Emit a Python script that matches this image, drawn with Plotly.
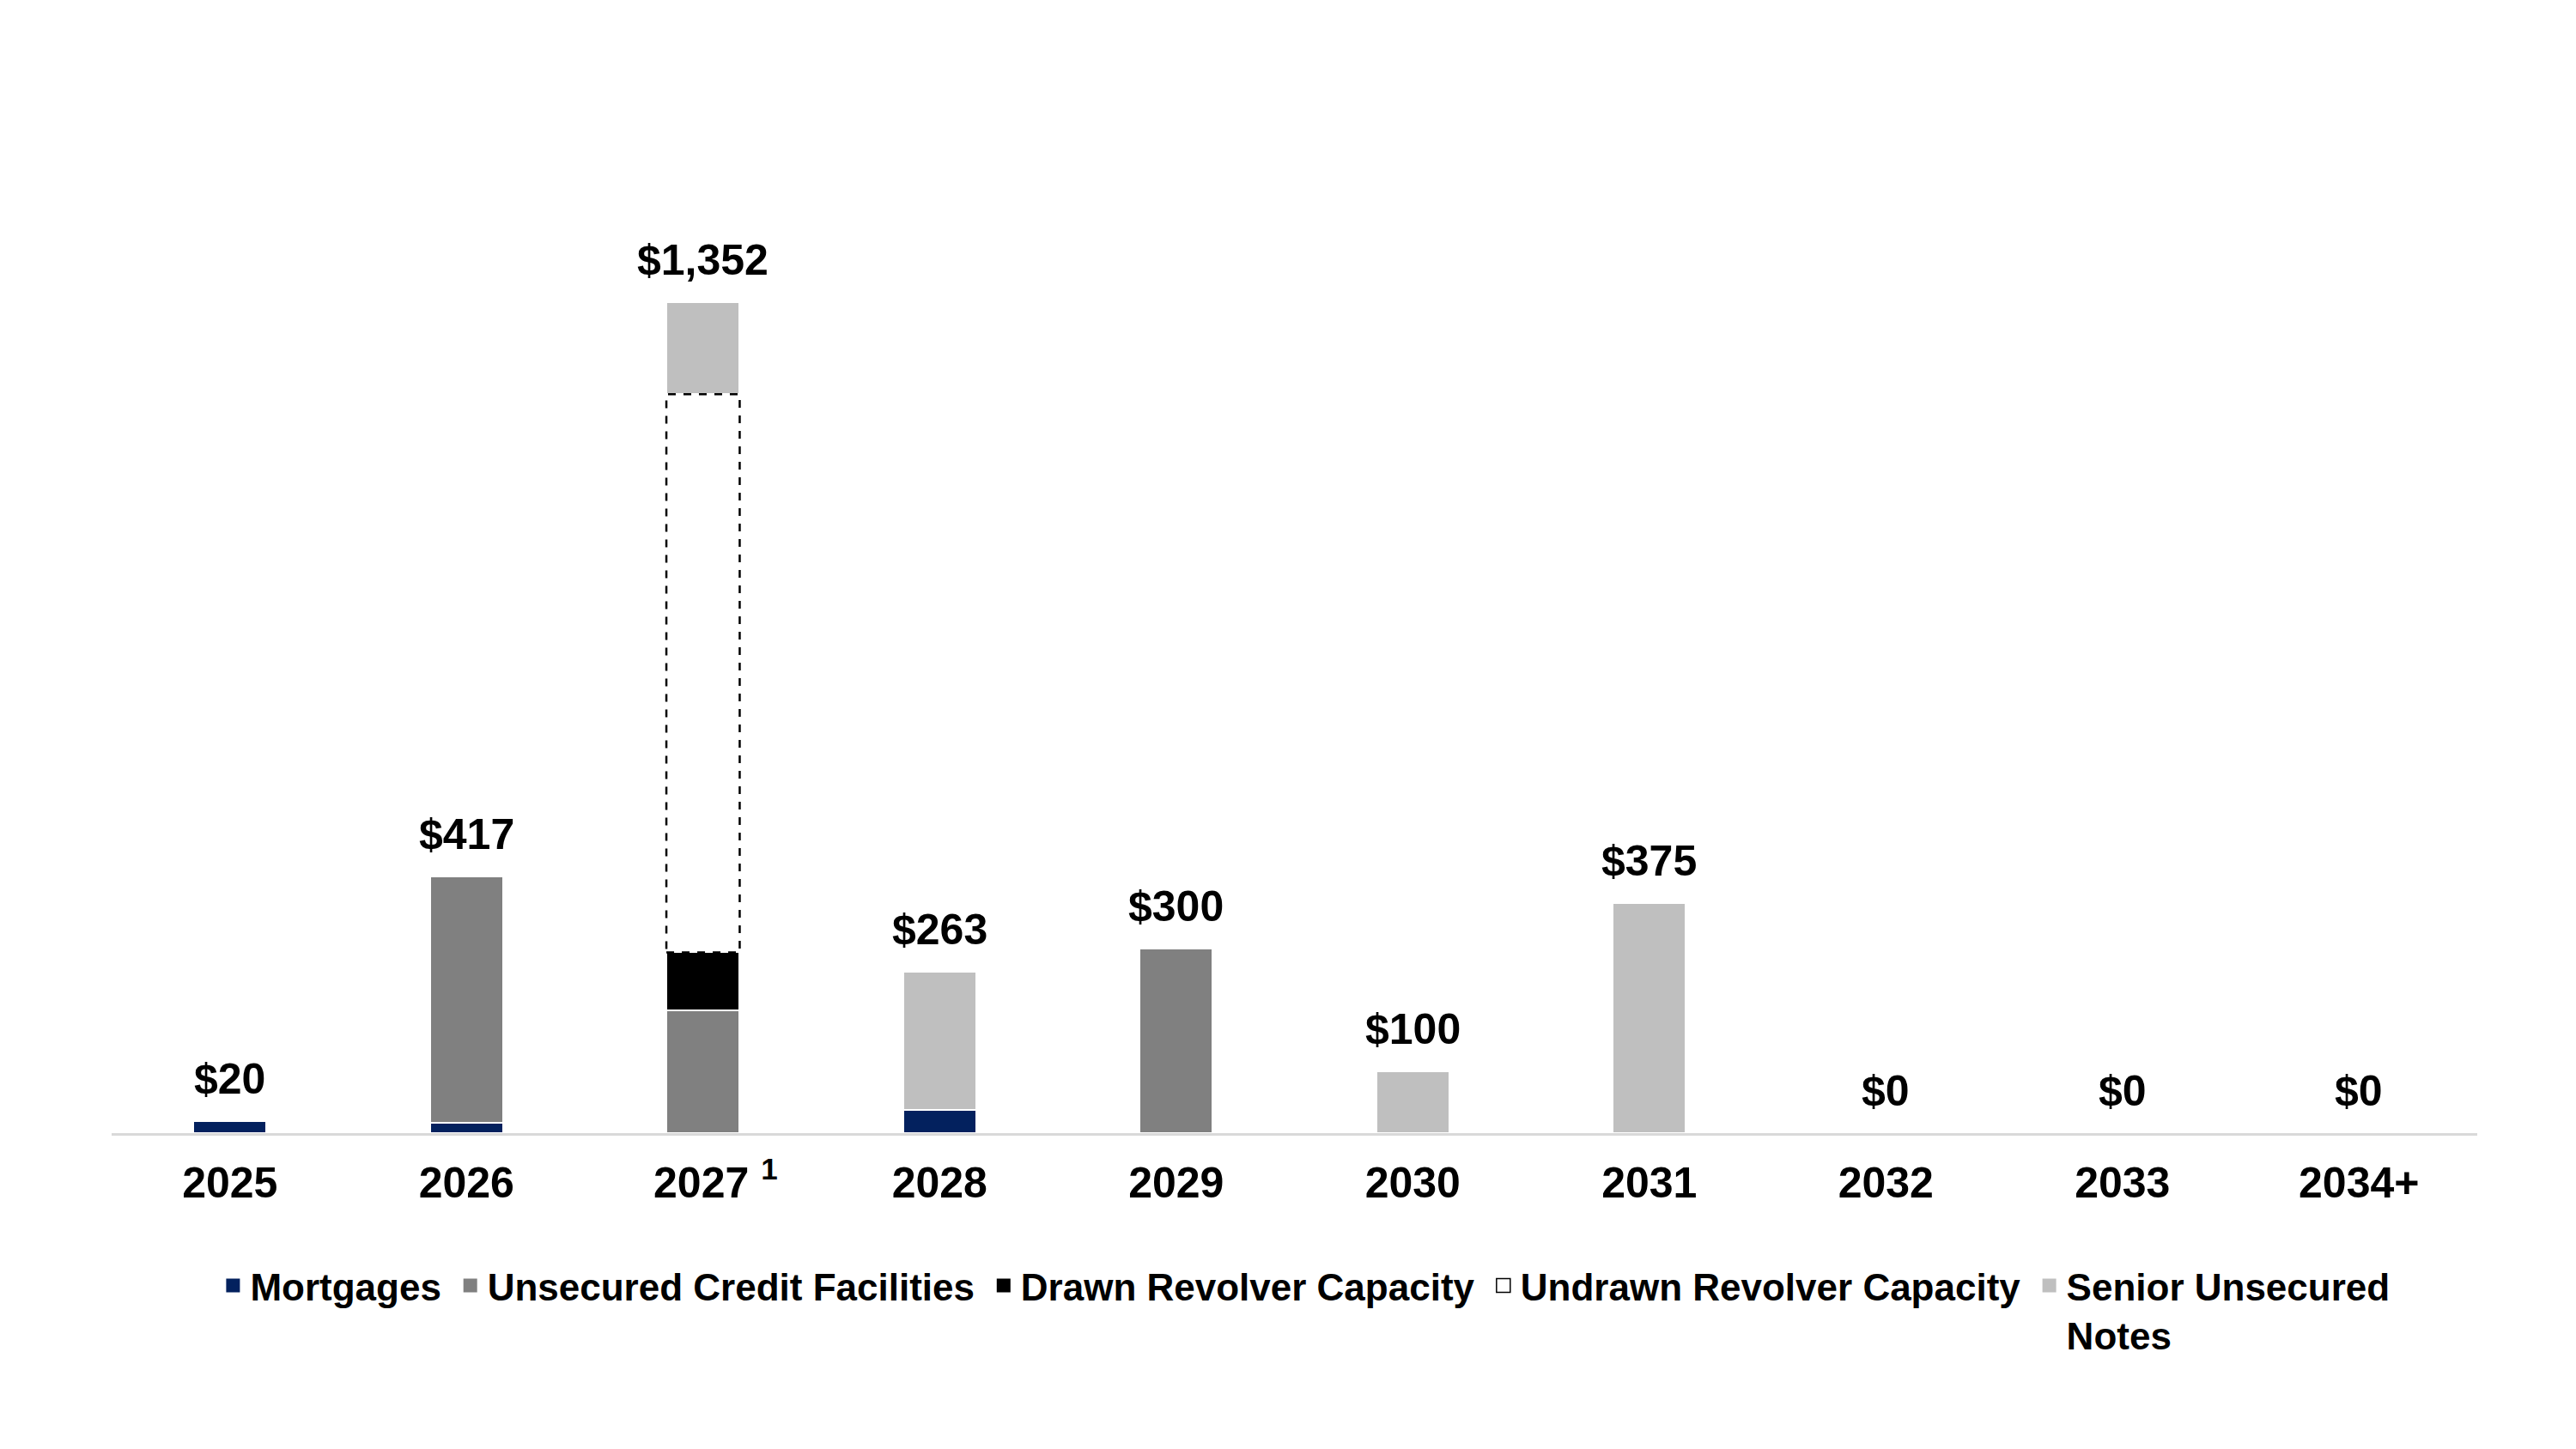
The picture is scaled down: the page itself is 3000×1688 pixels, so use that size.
import plotly.graph_objects as go

# ---- data ----
years = ["2025", "2026", "<sup>\u00a0\u00a0\u00a0</sup>2027 <sup>1</sup>", "2028", "2029", "2030", "2031",
         "2032", "2033", "2034+"]
mortgages = [20, 17, 0, 38, 0, 0, 0, 0, 0, 0]
unsecured_credit = [0, 400, 200, 0, 300, 0, 0, 0, 0, 0]
drawn_revolver = [0, 0, 94, 0, 0, 0, 0, 0, 0, 0]
undrawn_revolver = [0, 0, 908, 0, 0, 0, 0, 0, 0, 0]
senior_notes = [0, 0, 150, 225, 0, 100, 375, 0, 0, 0]
series_names = ["Mortgages", "Unsecured Credit Facilities", "Drawn Revolver Capacity",
                "Undrawn Revolver Capacity", "Senior Unsecured<br>Notes"]

totals = [a + b + c + d + e for a, b, c, d, e in
          zip(mortgages, unsecured_credit, drawn_revolver, undrawn_revolver, senior_notes)]

FONT = "Arial, 'Liberation Sans', sans-serif"
BAR_W = 0.31
colors = ["#03215E", "#808080", "#000000", "white", "#BFBFBF"]


def nz(vals):
    return [v if v else None for v in vals]


fig = go.Figure()

sep = dict(color="white", width=2)
series = [mortgages, unsecured_credit, drawn_revolver, undrawn_revolver, senior_notes]
for name, vals, col in zip(series_names, series, colors):
    fig.add_trace(go.Bar(x=years, y=nz(vals), name=name, width=BAR_W, showlegend=False,
                         marker=dict(color=col, line=sep if col != "white" else dict(width=0))))

# legend entries (square markers)
for k, (name, col) in enumerate(zip(series_names, colors)):
    label = name + ("\u2009" if k < len(series_names) - 1 else "")
    if col == "white":
        mk = dict(symbol="square-open", size=16, color="black", line=dict(width=1.5, color="black"))
    else:
        mk = dict(symbol="square", size=16, color=col, line=dict(width=0))
    fig.add_trace(go.Scatter(x=[None], y=[None], mode="markers", name=label, marker=mk))

# dashed outline around undrawn revolver segments
shapes = []
for i, (m, u, d, ud) in enumerate(zip(mortgages, unsecured_credit, drawn_revolver, undrawn_revolver)):
    if ud:
        base = m + u + d
        shapes.append(dict(type="rect", xref="x", yref="y",
                           x0=i - BAR_W / 2, x1=i + BAR_W / 2, y0=base, y1=base + ud,
                           line=dict(color="black", width=2.5, dash="dash"),
                           fillcolor="rgba(0,0,0,0)", layer="above"))

annotations = []
for i, t in enumerate(totals):
    annotations.append(dict(x=i, y=t, xref="x", yref="y", text=f"${t:,}",
                            showarrow=False, yanchor="middle", yshift=49,
                            font=dict(family=FONT, size=50, color="black", weight="bold")))

fig.update_layout(
    width=3000, height=1688,
    barmode="stack",
    plot_bgcolor="white", paper_bgcolor="white",
    margin=dict(l=122, r=123, t=122, b=376),
    shapes=shapes,
    annotations=annotations,
    showlegend=True,
    legend=dict(orientation="h", x=0.5045, xanchor="center", y=-0.1196, yanchor="top",
                font=dict(family=FONT, size=44, color="black", weight="bold"),
                traceorder="normal", valign="top"),
    xaxis=dict(type="category", showline=True, linecolor="#D9D9D9", linewidth=3,
               showgrid=False, zeroline=False,
               ticks="outside", ticklen=12, tickcolor="rgba(0,0,0,0)",
               tickfont=dict(family=FONT, size=50, color="black", weight="bold"),
               range=[-0.5, 9.5]),
    yaxis=dict(visible=False, range=[0, 1662], showgrid=False, zeroline=False),
)

fig.write_html("out.html")
